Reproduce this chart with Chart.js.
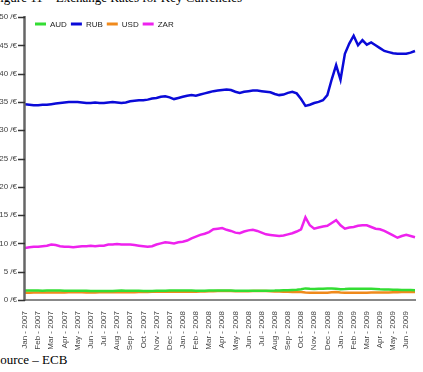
<!DOCTYPE html>
<html>
<head>
<meta charset="utf-8">
<script src="https://cdn.jsdelivr.net/npm/chart.js@4/dist/chart.umd.min.js"></script>
<style>
  html,body{margin:0;padding:0;background:#fff;overflow:hidden;width:423px;height:372px;}
  #wrap{position:absolute;left:0;top:0;width:423px;height:350px;}
  .cap{position:absolute;font-family:"Liberation Serif","DejaVu Serif",serif;color:#000;white-space:nowrap;}
  #title{left:-7px;top:-10px;font-size:13px;line-height:16px;}
  #source{left:-7px;top:352px;font-size:13px;line-height:16px;}
</style>
</head>
<body>
<div class="cap" id="title">Figure 11 – Exchange Rates for Key Currencies</div>
<div id="wrap"><canvas id="c" width="423" height="350"></canvas></div>
<div class="cap" id="source">Source – ECB</div>
<script>
// month tick labels, one every third data point
const months = ['Jan - 2007','Feb - 2007','Mar - 2007','Apr - 2007','May - 2007','Jun - 2007','Jul - 2007','Aug - 2007','Sep - 2007','Oct - 2007','Nov - 2007','Dec - 2007',
  'Jan - 2008','Feb - 2008','Mar - 2008','Apr - 2008','May - 2008','Jun - 2008','Jul - 2008','Aug - 2008','Sep - 2008','Oct - 2008','Nov - 2008','Dec - 2008',
  'Jan - 2009','Feb - 2009','Mar - 2009','Apr - 2009','May - 2009','Jun - 2009'];

// ~10-day readings, Jan 2007 .. late Jun 2009
const AUD = [1.66,1.67,1.66, 1.66,1.65,1.66, 1.67,1.68,1.66, 1.64,1.63,1.63, 1.64,1.64,1.63, 1.61,1.59,1.58, 1.58,1.59,1.60, 1.63,1.67,1.65,
  1.64,1.63,1.62, 1.61,1.60,1.60, 1.62,1.64,1.65, 1.66,1.67,1.66, 1.68,1.67,1.66, 1.63,1.62,1.64, 1.67,1.70,1.68, 1.69,1.68,1.66,
  1.64,1.62,1.62, 1.63,1.63,1.63, 1.62,1.63,1.64, 1.66,1.70,1.72, 1.74,1.78,1.80, 1.90,2.05,1.98, 1.93,1.98,2.00, 2.03,2.05,2.00,
  1.92,1.93,1.97, 1.98,2.00,1.99, 1.98,1.97,1.95, 1.88,1.86,1.84, 1.81,1.79,1.77, 1.76,1.75,1.74];
const RUB = [34.6,34.5,34.4, 34.4,34.5,34.5, 34.6,34.7,34.8, 34.9,35.0,35.0, 35.0,34.9,34.8, 34.8,34.9,34.8, 34.8,34.9,35.0, 34.9,34.8,34.9,
  35.1,35.2,35.3, 35.3,35.4,35.6, 35.7,35.9,36.0, 35.8,35.5,35.7, 35.9,36.1,36.2, 36.1,36.3,36.5, 36.7,36.9,37.0, 37.1,37.2,37.1,
  36.8,36.6,36.8, 36.9,37.0,37.0, 36.9,36.8,36.7, 36.4,36.2,36.3, 36.6,36.8,36.5, 35.5,34.3,34.5, 34.8,35.0,35.3, 36.2,39.0,41.5,
  38.9,43.5,45.3, 46.7,45.0,45.9, 45.1,45.5,45.0, 44.5,44.0,43.8, 43.6,43.5,43.5, 43.5,43.7,44.0];
const USD = [1.30,1.30,1.31, 1.31,1.31,1.32, 1.32,1.32,1.33, 1.34,1.35,1.36, 1.35,1.35,1.34, 1.34,1.34,1.35, 1.36,1.37,1.38, 1.37,1.36,1.36,
  1.37,1.39,1.41, 1.42,1.43,1.44, 1.46,1.47,1.48, 1.46,1.45,1.45, 1.47,1.47,1.48, 1.46,1.48,1.50, 1.53,1.55,1.57, 1.58,1.59,1.57,
  1.55,1.56,1.56, 1.55,1.57,1.58, 1.59,1.58,1.56, 1.52,1.49,1.47, 1.45,1.43,1.45, 1.40,1.33,1.28, 1.27,1.26,1.27, 1.30,1.35,1.40,
  1.34,1.30,1.29, 1.28,1.27,1.27, 1.30,1.32,1.33, 1.32,1.31,1.33, 1.35,1.38,1.41, 1.40,1.40,1.41];
const ZAR = [9.2,9.3,9.4, 9.4,9.5,9.6, 9.8,9.7,9.5, 9.4,9.4,9.3, 9.4,9.5,9.5, 9.6,9.5,9.6, 9.6,9.8,9.8, 9.9,9.8,9.8,
  9.8,9.7,9.6, 9.5,9.4,9.5, 9.8,10.0,10.2, 10.1,10.0,10.2, 10.3,10.5,10.9, 11.2,11.5,11.7, 12.0,12.5,12.6, 12.7,12.4,12.2,
  11.9,11.8,12.1, 12.3,12.4,12.2, 11.9,11.6,11.5, 11.4,11.3,11.4, 11.6,11.8,12.1, 12.5,14.6,13.2, 12.6,12.8,13.0, 13.1,13.6,14.1,
  13.2,12.6,12.8, 12.9,13.1,13.2, 13.2,12.9,12.6, 12.5,12.2,11.8, 11.4,11.0,11.3, 11.5,11.3,11.1];

const labels = RUB.map((_, i) => i % 3 === 0 ? months[i / 3] : '');
const FONT = 'Liberation Sans, Arial, sans-serif';

const ds = (label, data, color) => ({label, data, borderColor: color, backgroundColor: color, borderWidth: 2.5,
  pointRadius: 0, tension: 0, fill: false});

// horizontal legend drawn inside the plot, top-left
const insideLegend = {
  id: 'insideLegend',
  afterDraw(chart) {
    const {ctx, chartArea} = chart;
    let x = chartArea.left + 10;
    const y = chartArea.top + 7;
    ctx.save();
    ctx.font = '8px ' + FONT;
    ctx.textBaseline = 'middle';
    chart.data.datasets.forEach(d => {
      ctx.strokeStyle = d.borderColor; ctx.lineWidth = 3;
      ctx.beginPath(); ctx.moveTo(x, y); ctx.lineTo(x + 11, y); ctx.stroke();
      x += 15;
      ctx.fillStyle = '#222'; ctx.fillText(d.label, x, y + 0.5);
      x += ctx.measureText(d.label).width + 4;
    });
    ctx.restore();
  }
};

// y axis line with outward tick marks
const axisLines = {
  id: 'axisLines',
  afterDraw(chart) {
    const {ctx, chartArea} = chart;
    const y = chart.scales.y;
    const x0 = Math.round(chartArea.left);
    ctx.save();
    ctx.strokeStyle = '#666'; ctx.lineWidth = 2.5;
    ctx.beginPath();
    ctx.moveTo(x0 - 0.5, chartArea.top - 1); ctx.lineTo(x0 - 0.5, chartArea.bottom + 1);
    ctx.stroke();
    ctx.strokeStyle = '#333'; ctx.lineWidth = 1.5;
    ctx.beginPath();
    y.ticks.forEach(t => {
      const py = Math.round(y.getPixelForValue(t.value)) + 0.5;
      ctx.moveTo(x0 - 7, py); ctx.lineTo(x0, py);
    });
    ctx.stroke();
    ctx.restore();
  }
};

new Chart(document.getElementById('c'), {
  type: 'line',
  data: {labels, datasets: [
    ds('AUD', AUD, '#33dd33'),
    ds('RUB', RUB, '#0a0ad8'),
    ds('USD', USD, '#f08a1c'),
    ds('ZAR', ZAR, '#ee22ee')
  ]},
  plugins: [insideLegend, axisLines],
  options: {
    responsive: false, animation: false, devicePixelRatio: 1,
    layout: {padding: {top: 17, right: 8, left: 0, bottom: 0}},
    plugins: {
      tooltip: {enabled: false},
      legend: {display: false}
    },
    scales: {
      x: {
        afterFit: s => { s.height = 50; },
        grid: {display: false},
        border: {color: '#888', width: 2},
        ticks: {autoSkip: false, maxRotation: 90, minRotation: 90, padding: 3, color: '#444',
          font: {family: FONT, size: 8},
          callback: (v, i) => i % 3 === 0 ? months[i / 3] : null}
      },
      y: {
        min: 0, max: 50,
        afterFit: s => { s.width = 25; },
        grid: {display: false, drawTicks: false},
        border: {display: false},
        ticks: {stepSize: 5, padding: 8, color: '#444',
          font: {family: FONT, size: 8},
          callback: v => v + ' /€'}
      }
    }
  }
});
</script>
</body>
</html>
